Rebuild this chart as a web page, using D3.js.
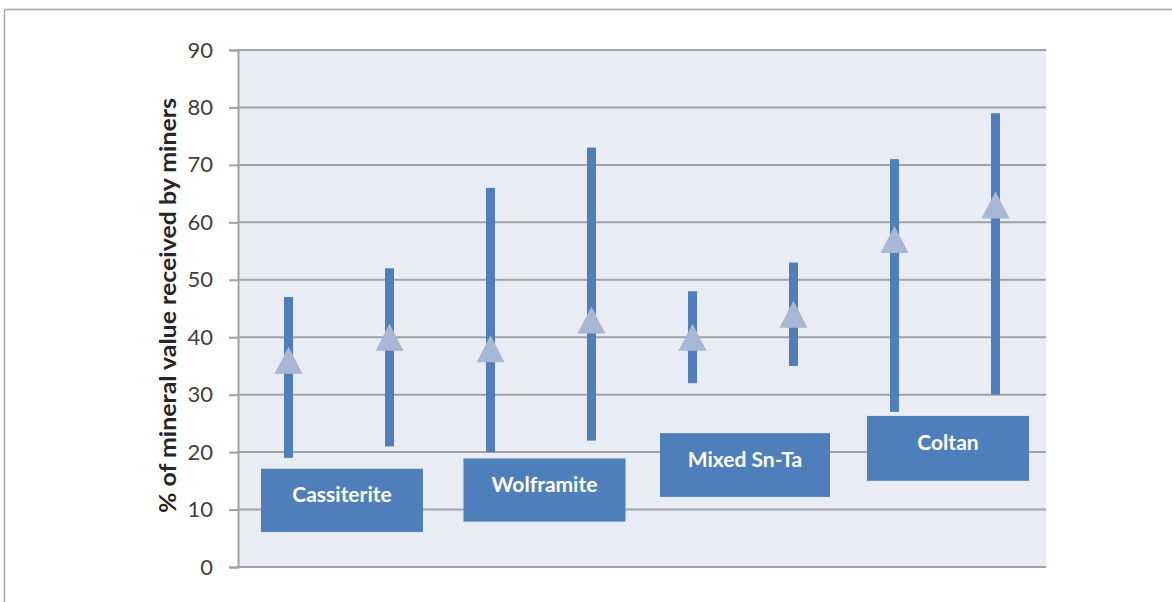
<!DOCTYPE html>
<html>
<head>
<meta charset="utf-8">
<script src="https://cdn.jsdelivr.net/npm/d3@7"></script>
<style>
  html, body { margin: 0; padding: 0; background: #ffffff; }
  svg { display: block; }
</style>
</head>
<body>
<svg id="chart" width="1172" height="602"></svg>
<script>
// ---- data ----
const categories = ["Cassiterite 1", "Cassiterite 2", "Wolframite 1", "Wolframite 2",
                    "Mixed Sn-Ta 1", "Mixed Sn-Ta 2", "Coltan 1", "Coltan 2"];
const lowValues  = [19, 21, 20, 22, 32, 35, 27, 30];
const highValues = [47, 52, 66, 73, 48, 53, 71, 79];
const midValues  = [36, 40, 38, 43, 40, 44, 57, 63];
const yTicks = [0, 10, 20, 30, 40, 50, 60, 70, 80, 90];
const groupLabels = ["Cassiterite", "Wolframite", "Mixed Sn-Ta", "Coltan"];
const labelTop    = [17.1, 18.9, 23.3, 26.3];
const labelBottom = [6.1, 7.9, 12.2, 15.0];
const yTitle = "% of mineral value received by miners";

(function () {
// ---- layout ----
const svg = d3.select("#chart");
const mLeft = 238, mRight = 1046, mTop = 50, mBottom = 567;
const boxWidths = [162, 162, 170, 162];
const boxShift = [3, 3.5, 2, 3];

const x = d3.scaleBand().domain(categories).range([mLeft, mRight]).paddingInner(0).paddingOuter(0);
const y = d3.scaleLinear().domain([0, 90]).range([mBottom, mTop]);
const cx = c => x(c) + x.bandwidth() / 2;

// outer frame
svg.append("line").attr("x1", 4.5).attr("x2", 1172).attr("y1", 9.5).attr("y2", 9.5)
  .attr("stroke", "#a6a6a6").attr("stroke-width", 1.5);
svg.append("line").attr("x1", 4.5).attr("x2", 4.5).attr("y1", 9.5).attr("y2", 602)
  .attr("stroke", "#a6a6a6").attr("stroke-width", 1.5);

// plot background
svg.append("rect").attr("x", mLeft).attr("y", mTop).attr("width", mRight - mLeft).attr("height", mBottom - mTop)
  .attr("fill", "#e9ecf4");

// gridlines
svg.append("g").selectAll("line").data(yTicks).join("line")
  .attr("x1", mLeft).attr("x2", mRight)
  .attr("y1", d => y(d)).attr("y2", d => y(d))
  .attr("stroke", "#a2a2a2").attr("stroke-width", 2);

// y axis
const yAxis = svg.append("g").attr("transform", `translate(${mLeft},0)`)
  .call(d3.axisLeft(y).tickValues(yTicks).tickSize(9).tickPadding(16).tickFormat(d3.format("d")));
yAxis.select(".domain").attr("stroke", "#a2a2a2").attr("stroke-width", 2);
yAxis.selectAll(".tick line").attr("stroke", "#a2a2a2").attr("stroke-width", 2);
yAxis.selectAll(".tick text").attr("fill", "#404040")
  .style("font-family", "Lato, 'Open Sans', sans-serif").style("font-size", "22px");

// y axis title
svg.append("text")
  .attr("transform", `translate(176,305.5) rotate(-90)`)
  .attr("text-anchor", "middle")
  .attr("fill", "#262626")
  .attr("textLength", 415)
  .attr("lengthAdjust", "spacingAndGlyphs")
  .style("font-family", "Lato, 'Open Sans', sans-serif")
  .style("font-weight", "bold")
  .style("font-size", "23px")
  .text(yTitle);

// range bars
svg.append("g").selectAll("rect").data(categories).join("rect")
  .attr("x", c => cx(c) - 4.5)
  .attr("width", 9)
  .attr("y", (c, i) => y(highValues[i]))
  .attr("height", (c, i) => y(lowValues[i]) - y(highValues[i]))
  .attr("fill", "#4f7fbb");

// triangles
const tw = 28, th = 27;
svg.append("g").selectAll("path").data(categories).join("path")
  .attr("d", (c, i) => {
    const px = cx(c), py = y(midValues[i]);
    return `M${px},${py - th / 2} L${px + tw / 2},${py + th / 2} L${px - tw / 2},${py + th / 2} Z`;
  })
  .attr("fill", "#a7b7d4");

// group label boxes
const boxCx = i => (cx(categories[2 * i]) + cx(categories[2 * i + 1])) / 2 + boxShift[i];
const lbl = svg.append("g").selectAll("g").data(groupLabels).join("g");
lbl.append("rect")
  .attr("x", (d, i) => boxCx(i) - boxWidths[i] / 2)
  .attr("width", (d, i) => boxWidths[i])
  .attr("y", (d, i) => y(labelTop[i]))
  .attr("height", (d, i) => y(labelBottom[i]) - y(labelTop[i]))
  .attr("fill", "#4f7fbb");
lbl.append("text")
  .attr("x", (d, i) => boxCx(i))
  .attr("y", (d, i) => (y(labelBottom[i]) + y(labelTop[i])) / 2 + 1.5)
  .attr("text-anchor", "middle")
  .attr("fill", "#ffffff")
  .style("font-family", "Lato, 'Open Sans', sans-serif")
  .style("font-weight", "bold")
  .style("font-size", "21px")
  .text(d => d);
})();
</script>
</body>
</html>
